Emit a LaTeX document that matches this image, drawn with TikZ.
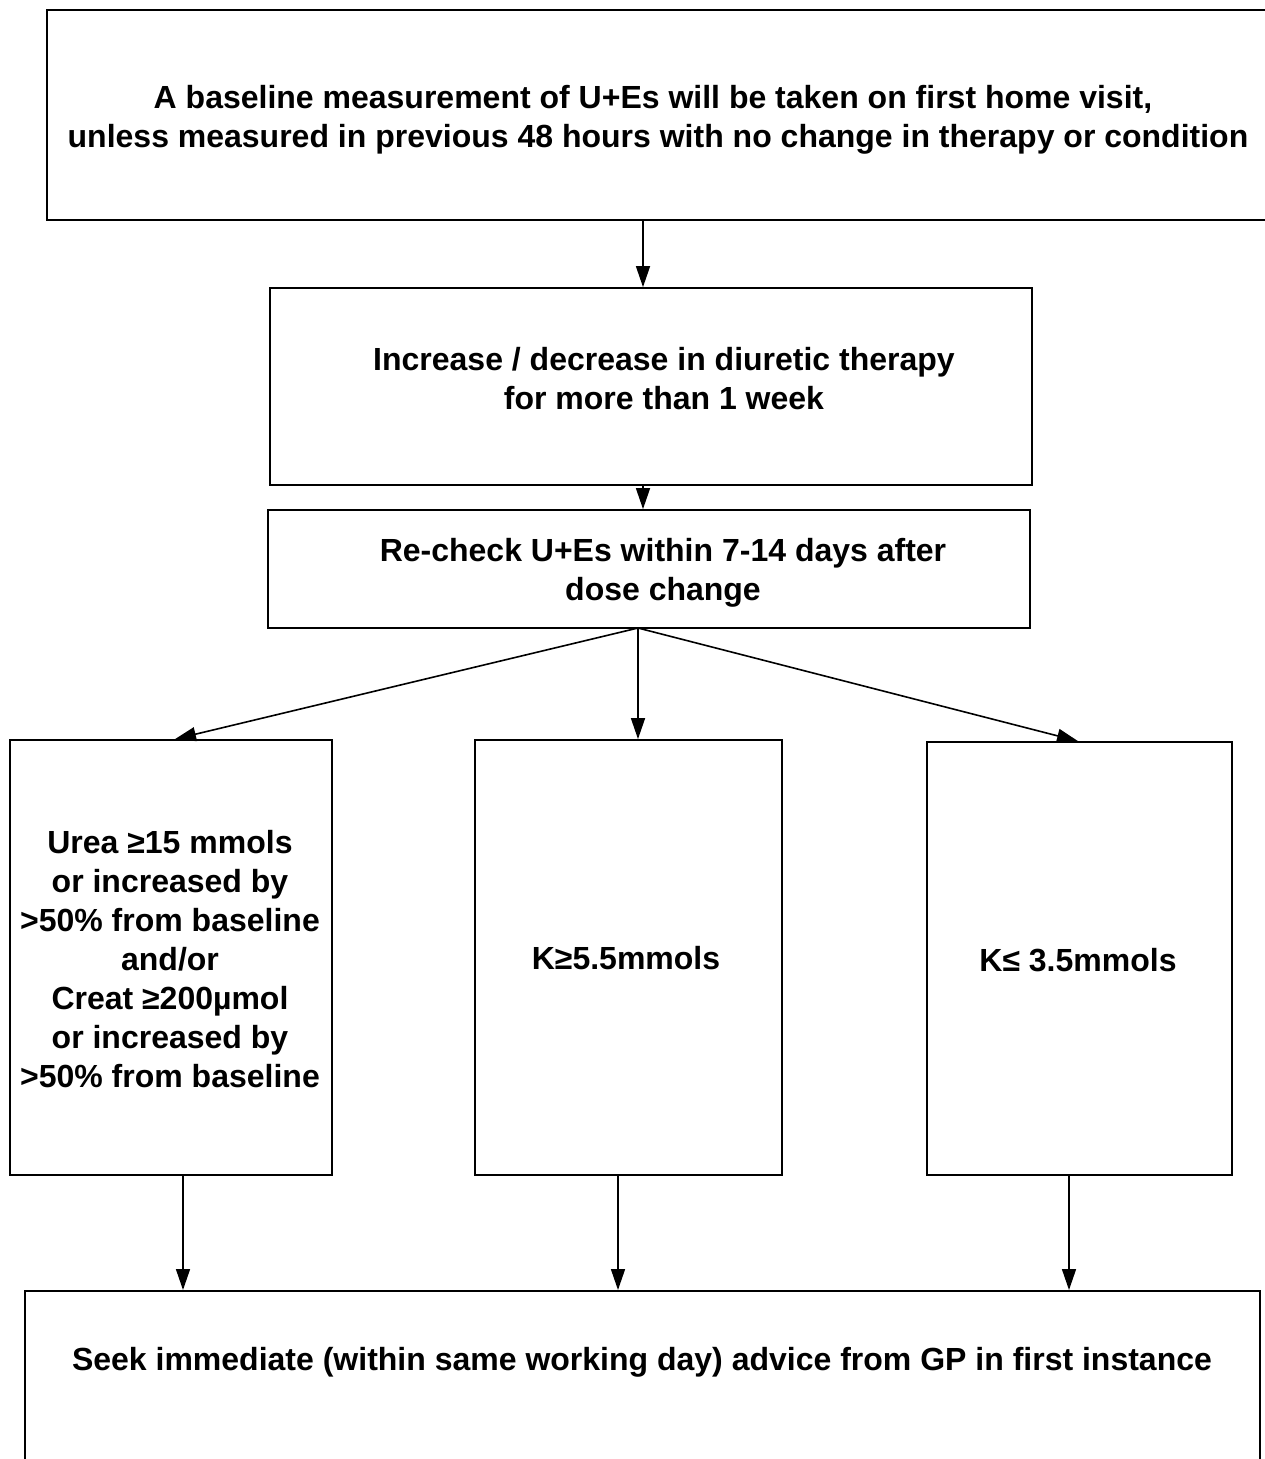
\documentclass[tikz,border=0pt]{standalone}
\usepackage{fontspec}
\setmainfont{Liberation Sans}
\usetikzlibrary{arrows.meta}
\begin{document}
\begin{tikzpicture}[x=1pt,y=-1pt,
  box/.style={draw,line width=1.8pt,rectangle,inner sep=0pt},
  txt/.style={inner sep=0pt,align=center,font=\fontsize{32}{39}\selectfont\bfseries},
  arr/.style={line width=1.6pt,-{Triangle[length=21pt,width=14pt]}}]
\useasboundingbox[fill=white] (0,0) rectangle (1265,1459);
\node[box,minimum width=1223pt,minimum height=210pt] (top) at (658.5,115) {};
\node[txt] (toptxt) at (658,120)
  {A baseline measurement of U+Es will be taken on first home visit,\hspace*{10pt}\\
   unless measured in previous 48 hours with no change in therapy or condition};
\node[box,minimum width=762pt,minimum height=197pt] (b2) at (651,386.5) {};
\node[txt] (b2txt) at (664,379)
  {Increase / decrease in diuretic therapy\\for more than 1 week};
\node[box,minimum width=762pt,minimum height=118pt] (b3) at (649,569) {};
\node[txt] (b3txt) at (663,573)
  {Re-check U+Es within 7-14 days after\\dose change};
\node[box,minimum width=322pt,minimum height=435pt] (L) at (171,957.5) {};
\node[txt] (Ltxt) at (170,959)
  {Urea ≥15 mmols\\or increased by\\>50\% from baseline\\and/or\\Creat ≥200µmol\\or increased by\\>50\% from baseline};
\node[box,minimum width=307pt,minimum height=435pt] (M) at (628.5,957.5) {};
\node[txt] (Mtxt) at (626,958) {K≥5.5mmols};
\node[box,minimum width=305pt,minimum height=433pt] (R) at (1079.5,958.5) {};
\node[txt] (Rtxt) at (1078,960) {K≤ 3.5mmols};
\node[box,minimum width=1235pt,minimum height=200pt,anchor=north] (bot) at (642.5,1290) {};
\node[txt] (bottxt) at (642,1362) {Seek immediate (within same working day) advice from GP in first instance};
\coordinate (cx) at (643,0);
\coordinate (fork) at (638,628);
\draw[arr] (top.south -| cx) -- (b2.north -| cx);
\draw[arr] (b2.south -| cx) -- (b3.north -| cx);
\draw[arr] (fork) -- ([xshift=4pt]L.north);
\draw[arr] (fork) -- (M.north -| fork);
\draw[arr] (fork) -- ([xshift=-1.5pt]R.north);
\draw[arr] ([xshift=12pt]L.south) -- ([xshift=12pt]L.south |- bot.north);
\draw[arr] ([xshift=-10.5pt]M.south) -- ([xshift=-10.5pt]M.south |- bot.north);
\draw[arr] ([xshift=-10.5pt]R.south) -- ([xshift=-10.5pt]R.south |- bot.north);
\end{tikzpicture}
\end{document}
